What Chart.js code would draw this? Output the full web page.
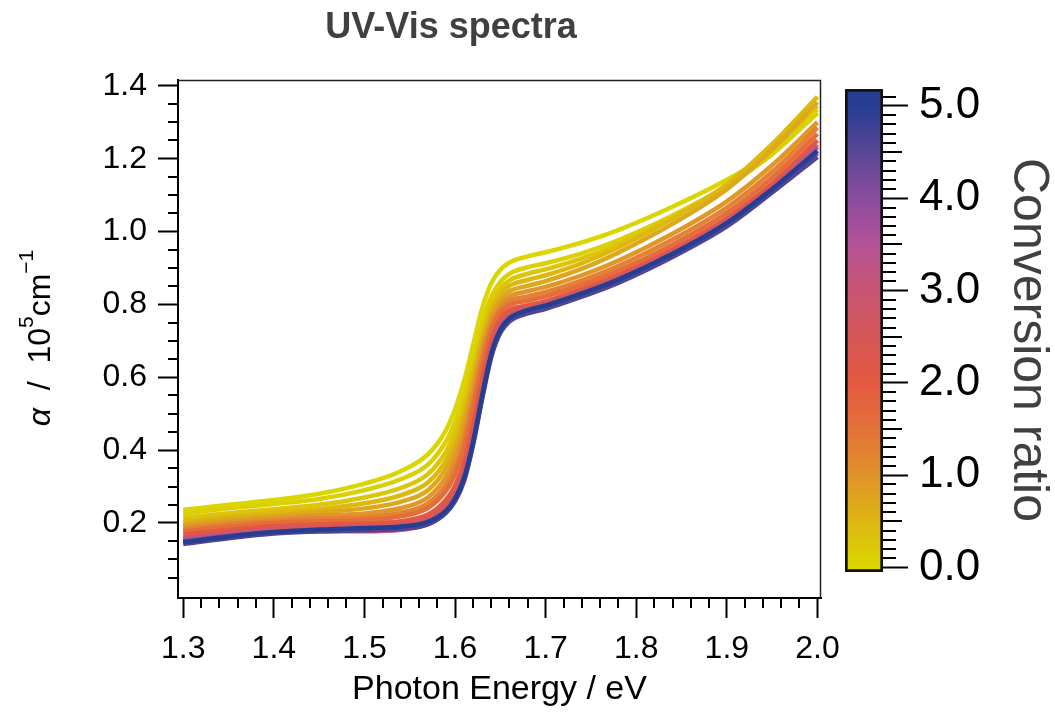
<!DOCTYPE html>
<html>
<head>
<meta charset="utf-8">
<script src="https://cdn.jsdelivr.net/npm/chart.js@4.4.0/dist/chart.umd.min.js"></script>
<style>
  html, body { margin: 0; padding: 0; background: #fff; }
  #wrap { position: relative; width: 1055px; height: 713px; }
  #wrap canvas { position: absolute; left: 0; top: 0; }
</style>
</head>
<body>
<div id="wrap">
  <canvas id="spectra" width="1055" height="713"></canvas>
  <canvas id="cbar" width="1055" height="713"></canvas>
</div>
<script>
'use strict';
var FONT = '"Liberation Sans", Arial, Helvetica, sans-serif';

// photon energy (eV) sample points
var energy = [1.30, 1.35, 1.40, 1.45, 1.50, 1.54, 1.57, 1.59, 1.60, 1.61, 1.62, 1.63,
              1.64, 1.65, 1.66, 1.68, 1.70, 1.74, 1.78, 1.84, 1.90, 1.95, 2.00];

// conversion ratio of each spectrum
var conversionRatio = [0.0, 0.1, 0.25, 0.45, 0.7, 0.95, 1.25, 1.6, 2.0, 2.6, 3.3, 4.0, 4.6, 5.0];

// absorption coefficient (10^5 cm^-1)
var alpha_r000 = [0.236, 0.250, 0.263, 0.280, 0.308, 0.342, 0.388, 0.455, 0.512, 0.590, 0.690, 0.790, 0.858, 0.895, 0.915, 0.932, 0.943, 0.970, 1.004, 1.068, 1.142, 1.218, 1.335];
var alpha_r010 = [0.226, 0.240, 0.252, 0.266, 0.290, 0.320, 0.360, 0.424, 0.478, 0.554, 0.652, 0.750, 0.822, 0.862, 0.884, 0.902, 0.913, 0.940, 0.976, 1.044, 1.125, 1.212, 1.325];
var alpha_r025 = [0.214, 0.227, 0.238, 0.250, 0.270, 0.296, 0.334, 0.396, 0.450, 0.526, 0.625, 0.725, 0.800, 0.843, 0.866, 0.884, 0.896, 0.926, 0.965, 1.039, 1.127, 1.225, 1.345];
var alpha_r045 = [0.204, 0.217, 0.228, 0.238, 0.254, 0.276, 0.311, 0.372, 0.426, 0.502, 0.603, 0.706, 0.784, 0.828, 0.851, 0.867, 0.880, 0.913, 0.956, 1.035, 1.130, 1.240, 1.370];
var alpha_r070 = [0.197, 0.210, 0.220, 0.229, 0.240, 0.258, 0.290, 0.350, 0.403, 0.480, 0.584, 0.690, 0.770, 0.814, 0.836, 0.851, 0.864, 0.898, 0.942, 1.021, 1.116, 1.226, 1.355];
var alpha_r095 = [0.190, 0.203, 0.213, 0.220, 0.226, 0.241, 0.270, 0.326, 0.377, 0.454, 0.561, 0.672, 0.756, 0.801, 0.822, 0.836, 0.848, 0.880, 0.920, 0.994, 1.083, 1.182, 1.300];
var alpha_r125 = [0.183, 0.196, 0.206, 0.212, 0.216, 0.228, 0.254, 0.305, 0.353, 0.428, 0.537, 0.652, 0.741, 0.789, 0.810, 0.822, 0.834, 0.866, 0.905, 0.978, 1.066, 1.164, 1.285];
var alpha_r160 = [0.177, 0.190, 0.200, 0.205, 0.208, 0.218, 0.241, 0.288, 0.333, 0.405, 0.514, 0.632, 0.727, 0.778, 0.798, 0.810, 0.822, 0.854, 0.892, 0.964, 1.051, 1.148, 1.268];
var alpha_r200 = [0.168, 0.181, 0.191, 0.196, 0.198, 0.205, 0.223, 0.264, 0.302, 0.366, 0.472, 0.596, 0.702, 0.760, 0.784, 0.797, 0.809, 0.842, 0.880, 0.951, 1.037, 1.132, 1.250];
var alpha_r260 = [0.160, 0.174, 0.184, 0.189, 0.191, 0.197, 0.213, 0.250, 0.286, 0.346, 0.450, 0.576, 0.686, 0.748, 0.774, 0.790, 0.803, 0.836, 0.874, 0.945, 1.030, 1.124, 1.238];
var alpha_r330 = [0.155, 0.167, 0.175, 0.177, 0.177, 0.181, 0.197, 0.232, 0.266, 0.323, 0.422, 0.548, 0.662, 0.728, 0.759, 0.781, 0.794, 0.827, 0.865, 0.936, 1.021, 1.114, 1.232];
var alpha_r400 = [0.150, 0.164, 0.174, 0.178, 0.180, 0.184, 0.198, 0.230, 0.262, 0.319, 0.419, 0.546, 0.660, 0.726, 0.757, 0.779, 0.792, 0.825, 0.863, 0.934, 1.019, 1.112, 1.215];
var alpha_r460 = [0.142, 0.158, 0.171, 0.177, 0.180, 0.184, 0.196, 0.228, 0.260, 0.316, 0.416, 0.542, 0.656, 0.722, 0.753, 0.775, 0.788, 0.821, 0.859, 0.930, 1.014, 1.107, 1.205];
var alpha_r500 = [0.147, 0.163, 0.175, 0.182, 0.186, 0.190, 0.203, 0.234, 0.267, 0.324, 0.424, 0.551, 0.665, 0.731, 0.762, 0.784, 0.797, 0.830, 0.868, 0.939, 1.024, 1.117, 1.222];

var spectra = [alpha_r000, alpha_r010, alpha_r025, alpha_r045, alpha_r070, alpha_r095, alpha_r125,
               alpha_r160, alpha_r200, alpha_r260, alpha_r330, alpha_r400, alpha_r460, alpha_r500];

// tick labels
var xMajorTicks = [1.3, 1.4, 1.5, 1.6, 1.7, 1.8, 1.9, 2.0];
var yMajorTicks = [0.2, 0.4, 0.6, 0.8, 1.0, 1.2, 1.4];
var cbarMajorTicks = [0, 1, 2, 3, 4, 5];

// axis ranges
var xMin = 1.2942, xMax = 2.0039;
var yMin = -0.006, yMax = 1.416;
var cbarMin = -0.049, cbarMax = 5.184;

// colour map for conversion ratio
var cmapStops = [
    [0.0, [220, 214, 0]],
    [0.5, [221, 182, 18]],
    [1.0, [224, 146, 42]],
    [1.5, [228, 114, 57]],
    [2.0, [229, 88, 64]],
    [2.5, [214, 87, 88]],
    [3.0, [200, 86, 114]],
    [3.5, [180, 82, 152]],
    [4.0, [138, 77, 158]],
    [4.5, [90, 70, 150]],
    [5.0, [38, 62, 146]]
];
function rgb(c) { return 'rgb(' + c[0] + ',' + c[1] + ',' + c[2] + ')'; }
function cmap(r) {
    for (var i = 1; i < cmapStops.length; i++) {
        if (r <= cmapStops[i][0]) {
            var a = cmapStops[i - 1], b = cmapStops[i];
            var t = (r - a[0]) / (b[0] - a[0]);
            return rgb(a[1].map(function (v, k) { return Math.round(v + (b[1][k] - v) * t); }));
        }
    }
    return rgb(cmapStops[cmapStops.length - 1][1]);
}

// higher ratio drawn on top
var datasets = spectra.map(function (vals, i) {
    return {
        label: 'ratio ' + conversionRatio[i],
        data: energy.map(function (e, j) { return { x: e, y: vals[j] }; }),
        borderColor: cmap(conversionRatio[i]),
        borderWidth: 4.5,
        pointRadius: 0,
        fill: false,
        cubicInterpolationMode: 'monotone',
        order: spectra.length - i
    };
});

// minor ticks, frame, title and y-axis label
var axisDecor = {
    id: 'axisDecor',
    afterDraw: function (chart) {
        var ctx = chart.ctx, a = chart.chartArea;
        var xs = chart.scales.x, ys = chart.scales.y;
        var k, p;
        ctx.save();
        ctx.strokeStyle = '#000';
        ctx.lineWidth = 2;
        ctx.beginPath();
        for (k = 1; k <= 28; k++) {
            if (k % 4 === 0) continue;
            p = Math.round(ys.getPixelForValue(k * 0.05));
            ctx.moveTo(a.left, p); ctx.lineTo(a.left - 10, p);
        }
        for (k = 0; k <= 35; k++) {
            if (k % 5 === 0) continue;
            p = Math.round(xs.getPixelForValue(1.3 + k * 0.02));
            ctx.moveTo(p, a.bottom); ctx.lineTo(p, a.bottom + 10);
        }
        ctx.stroke();

        ctx.strokeStyle = '#222';
        ctx.lineWidth = 1.5;
        ctx.beginPath();
        ctx.moveTo(a.left, a.top + 0.5);
        ctx.lineTo(a.right - 0.5, a.top + 0.5);
        ctx.lineTo(a.right - 0.5, a.bottom);
        ctx.stroke();

        // title
        ctx.fillStyle = '#404040';
        ctx.font = 'bold 36px ' + FONT;
        ctx.textAlign = 'center';
        ctx.textBaseline = 'alphabetic';
        ctx.fillText('UV-Vis spectra', 451, 38);

        // y-axis label with superscripts
        var parts = [
            { t: '\u03b1', f: 'italic 32px ' + FONT, rise: 0 },
            { t: '  /  10', f: '32px ' + FONT, rise: 0 },
            { t: '5', f: '21px ' + FONT, rise: 17 },
            { t: 'cm', f: '32px ' + FONT, rise: 0 },
            { t: '\u22121', f: '21px ' + FONT, rise: 17 }
        ];
        var total = 0;
        parts.forEach(function (pt) { ctx.font = pt.f; pt.w = ctx.measureText(pt.t).width; total += pt.w; });
        ctx.fillStyle = '#000';
        ctx.translate(50, 338);
        ctx.rotate(-Math.PI / 2);
        ctx.textAlign = 'left';
        var cx = -total / 2;
        parts.forEach(function (pt) {
            ctx.font = pt.f;
            ctx.fillText(pt.t, cx, -pt.rise);
            cx += pt.w;
        });
        ctx.restore();
    }
};

new Chart(document.getElementById('spectra'), {
    type: 'line',
    data: { datasets: datasets },
    options: {
        responsive: false,
        animation: false,
        events: [],
        layout: { padding: { left: 0, top: 80, right: 234, bottom: 0 } },
        plugins: { legend: { display: false }, tooltip: { enabled: false } },
        scales: {
            x: {
                type: 'linear',
                min: xMin,
                max: xMax,
                afterFit: function (s) { s.height = 115; },
                afterBuildTicks: function (s) { s.ticks = xMajorTicks.map(function (v) { return { value: v }; }); },
                grid: { drawOnChartArea: false, drawTicks: true, tickLength: 20, tickWidth: 2, tickColor: '#000' },
                border: { display: true, color: '#000', width: 2 },
                ticks: {
                    autoSkip: false, maxRotation: 0, padding: 12, color: '#000',
                    font: { family: FONT, size: 32 },
                    callback: function (v) { return v.toFixed(1); }
                },
                title: {
                    display: true, text: 'Photon Energy / eV', color: '#000',
                    font: { family: FONT, size: 34 }, padding: { top: 0, bottom: 3 }
                }
            },
            y: {
                type: 'linear',
                min: yMin,
                max: yMax,
                afterFit: function (s) { s.width = 178; },
                afterBuildTicks: function (s) { s.ticks = yMajorTicks.map(function (v) { return { value: v }; }); },
                grid: { drawOnChartArea: false, drawTicks: true, tickLength: 20, tickWidth: 2, tickColor: '#000' },
                border: { display: true, color: '#000', width: 2 },
                ticks: {
                    autoSkip: false, padding: 11, color: '#000',
                    font: { family: FONT, size: 32 },
                    callback: function (v) { return v.toFixed(1); }
                }
            }
        }
    },
    plugins: [axisDecor]
});

// colour bar: minor ticks and label
var cbarDecor = {
    id: 'cbarDecor',
    afterDraw: function (chart) {
        var ctx = chart.ctx, a = chart.chartArea, ys = chart.scales.y;
        ctx.save();
        ctx.strokeStyle = '#000';
        ctx.lineWidth = 2;
        ctx.beginPath();
        for (var k = 1; k <= 51; k++) {
            if (k % 10 === 0) continue;
            var p = Math.round(ys.getPixelForValue(k / 10));
            var len = (k % 5 === 0) ? 19 : 13;
            ctx.moveTo(a.right, p); ctx.lineTo(a.right + len, p);
        }
        ctx.stroke();

        ctx.fillStyle = '#404040';
        ctx.font = '50px ' + FONT;
        ctx.textAlign = 'center';
        ctx.textBaseline = 'alphabetic';
        ctx.translate(1014, 340);
        ctx.rotate(Math.PI / 2);
        ctx.fillText('Conversion ratio', 0, 0);
        ctx.restore();
    }
};

new Chart(document.getElementById('cbar'), {
    type: 'bar',
    data: {
        labels: ['ratio'],
        datasets: [{
            data: [[cbarMin, cbarMax]],
            backgroundColor: function (c) {
                var chart = c.chart, ys = chart.scales.y;
                if (!chart.chartArea || !ys) return '#888';
                var g = chart.ctx.createLinearGradient(0, ys.getPixelForValue(0), 0, ys.getPixelForValue(5));
                cmapStops.forEach(function (s) { g.addColorStop(s[0] / 5, rgb(s[1])); });
                return g;
            },
            borderColor: '#111',
            borderWidth: 3,
            borderSkipped: false,
            barPercentage: 1,
            categoryPercentage: 1
        }]
    },
    options: {
        responsive: false,
        animation: false,
        events: [],
        layout: { padding: { left: 845, top: 89, right: 0, bottom: 141 } },
        plugins: { legend: { display: false }, tooltip: { enabled: false } },
        scales: {
            x: { display: false },
            y: {
                position: 'right',
                min: cbarMin,
                max: cbarMax,
                afterFit: function (s) { s.width = 172; },
                afterBuildTicks: function (s) { s.ticks = cbarMajorTicks.map(function (v) { return { value: v }; }); },
                grid: { drawOnChartArea: false, drawTicks: true, tickLength: 25, tickWidth: 2, tickColor: '#000' },
                border: { display: false },
                ticks: {
                    autoSkip: false, padding: 11, color: '#000',
                    font: { family: FONT, size: 44 },
                    callback: function (v) { return v.toFixed(1); }
                }
            }
        }
    },
    plugins: [cbarDecor]
});
</script>
</body>
</html>
